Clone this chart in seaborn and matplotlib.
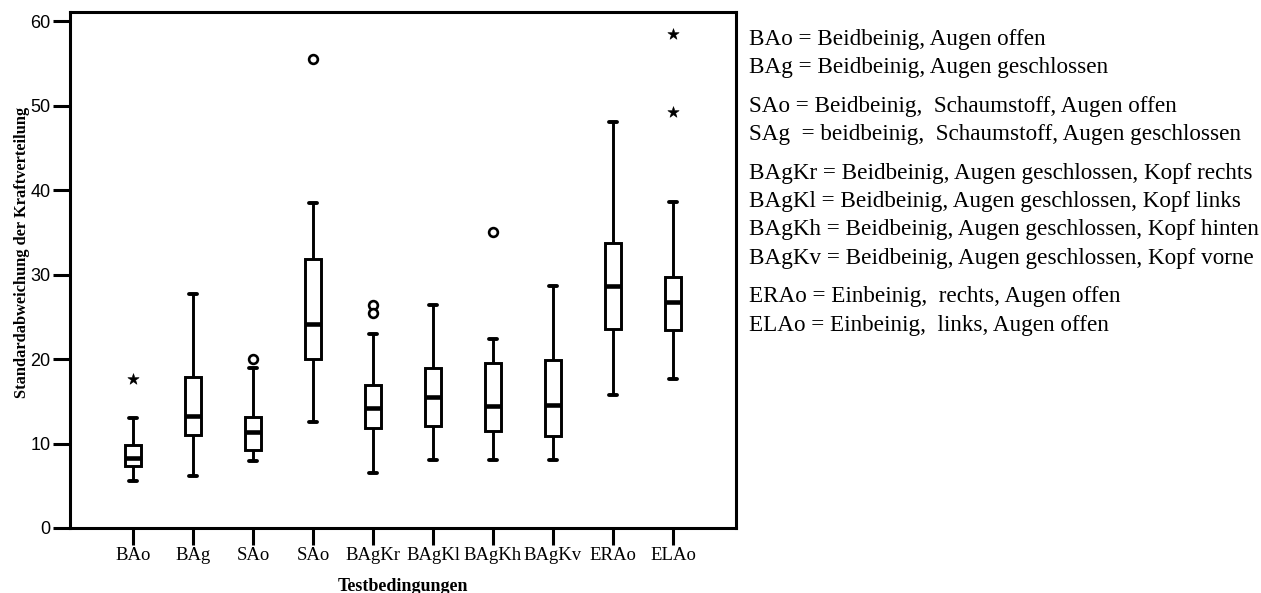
import numpy as np
import pandas as pd
import matplotlib
matplotlib.use("Agg")
import matplotlib.pyplot as plt
import seaborn as sns

# ---- data ----
conditions = ["BAo", "BAg", "SAo", "SAg", "BAgKr", "BAgKl", "BAgKh", "BAgKv", "ERAo", "ELAo"]
tick_labels = ["BAo", "BAg", "SAo", "SAo", "BAgKr", "BAgKl", "BAgKh", "BAgKv", "ERAo", "ELAo"]

whisker_low = [5.6, 6.2, 7.9, 12.6, 6.5, 8.0, 8.0, 8.1, 15.7, 17.7]
q1 = [7.4, 11.0, 9.2, 20.0, 11.9, 12.1, 11.5, 10.9, 23.6, 23.4]
median = [8.3, 13.3, 11.4, 24.1, 14.2, 15.5, 14.5, 14.6, 28.6, 26.8]
q3 = [9.8, 17.9, 13.2, 31.8, 16.9, 19.0, 19.5, 19.9, 33.8, 29.7]
whisker_high = [13.0, 27.7, 19.0, 38.5, 23.0, 26.4, 22.4, 28.6, 48.1, 38.6]

# outliers (circles) and extreme values (stars)
outlier_cond = ["SAo", "SAg", "BAgKr", "BAgKr", "BAgKh"]
outlier_vals = [20.0, 55.5, 26.4, 25.4, 35.1]
extreme_cond = ["BAo", "ELAo", "ELAo"]
extreme_vals = [17.6, 58.5, 49.3]

legend_lines = [
    ["BAo = Beidbeinig, Augen offen",
     "BAg = Beidbeinig, Augen geschlossen"],
    ["SAo = Beidbeinig,  Schaumstoff, Augen offen",
     "SAg  = beidbeinig,  Schaumstoff, Augen geschlossen"],
    ["BAgKr = Beidbeinig, Augen geschlossen, Kopf rechts",
     "BAgKl = Beidbeinig, Augen geschlossen, Kopf links",
     "BAgKh = Beidbeinig, Augen geschlossen, Kopf hinten",
     "BAgKv = Beidbeinig, Augen geschlossen, Kopf vorne"],
    ["ERAo = Einbeinig,  rechts, Augen offen",
     "ELAo = Einbeinig,  links, Augen offen"],
]

# ---- build long table from five-number summaries ----
rows = []
for c, lo, a, m, b, hi in zip(conditions, whisker_low, q1, median, q3, whisker_high):
    for v in (lo, a, m, b, hi):
        rows.append({"cond": c, "value": v})
df = pd.DataFrame(rows)
df_out = pd.DataFrame({"cond": outlier_cond, "value": outlier_vals})
df_ext = pd.DataFrame({"cond": extreme_cond, "value": extreme_vals})

sns.set_style("white")
plt.rcParams["font.family"] = ["Liberation Serif", "DejaVu Serif"]
plt.rcParams["text.color"] = "black"
plt.rcParams["axes.labelcolor"] = "black"
plt.rcParams["xtick.color"] = "black"
plt.rcParams["ytick.color"] = "black"

fig = plt.figure(figsize=(12.61, 5.93), dpi=100)
ax = fig.add_axes([70 / 1261, 65 / 593, 666 / 1261, 516 / 593])

lw = 2.1
sns.boxplot(data=df, x="cond", y="value", order=conditions, ax=ax,
            whis=(0, 100), showfliers=False, width=0.27,
            color="white", linecolor="black", linewidth=lw,
            medianprops={"linewidth": 3.3, "color": "black"},
            capprops={"linewidth": 2.8})
sns.stripplot(data=df_out, x="cond", y="value", order=conditions, ax=ax,
              jitter=False, marker="o", size=6.3, color="white",
              edgecolor="black", linewidth=1.9, zorder=5)
sns.stripplot(data=df_ext, x="cond", y="value", order=conditions, ax=ax,
              jitter=False, marker="*", size=8.5, color="black",
              edgecolor="black", linewidth=0.4, zorder=5)

ax.set_xlim(-1.05, 10.05)
ax.set_ylim(0, 61.1)
ax.set_yticks([0, 10, 20, 30, 40, 50, 60])
ax.set_xticks(range(len(conditions)))
ax.set_xticklabels(tick_labels, fontsize=13.5, family="Liberation Serif", color="black")
for lab in ax.get_yticklabels():
    lab.set_family("Liberation Sans")
    lab.set_fontsize(13)
    lab.set_color("black")
ax.tick_params(axis="both", direction="out", length=12, width=2.2, color="black",
               bottom=True, left=True, pad=2)
for sp in ax.spines.values():
    sp.set_visible(True)
    sp.set_linewidth(2.2)
    sp.set_color("black")

ax.set_xlabel("Testbedingungen", fontsize=13, fontweight="bold", labelpad=10, color="black")
ax.set_ylabel("")
fig.text(22 / 1261, 1 - 252 / 593, "Standardabweichung der Kraftverteilung",
         fontsize=11.8, fontweight="bold", rotation=90, ha="center", va="center",
         color="black")

# ---- legend text block on the right ----
y = 39
for gi, group in enumerate(legend_lines):
    for line in group:
        fig.text(749 / 1261, 1 - y / 593, line, fontsize=16.7,
                 family="Liberation Serif", va="center", ha="left", color="black")
        y += 28.3
    y += 10.5

fig.savefig("out.png", dpi=100)
